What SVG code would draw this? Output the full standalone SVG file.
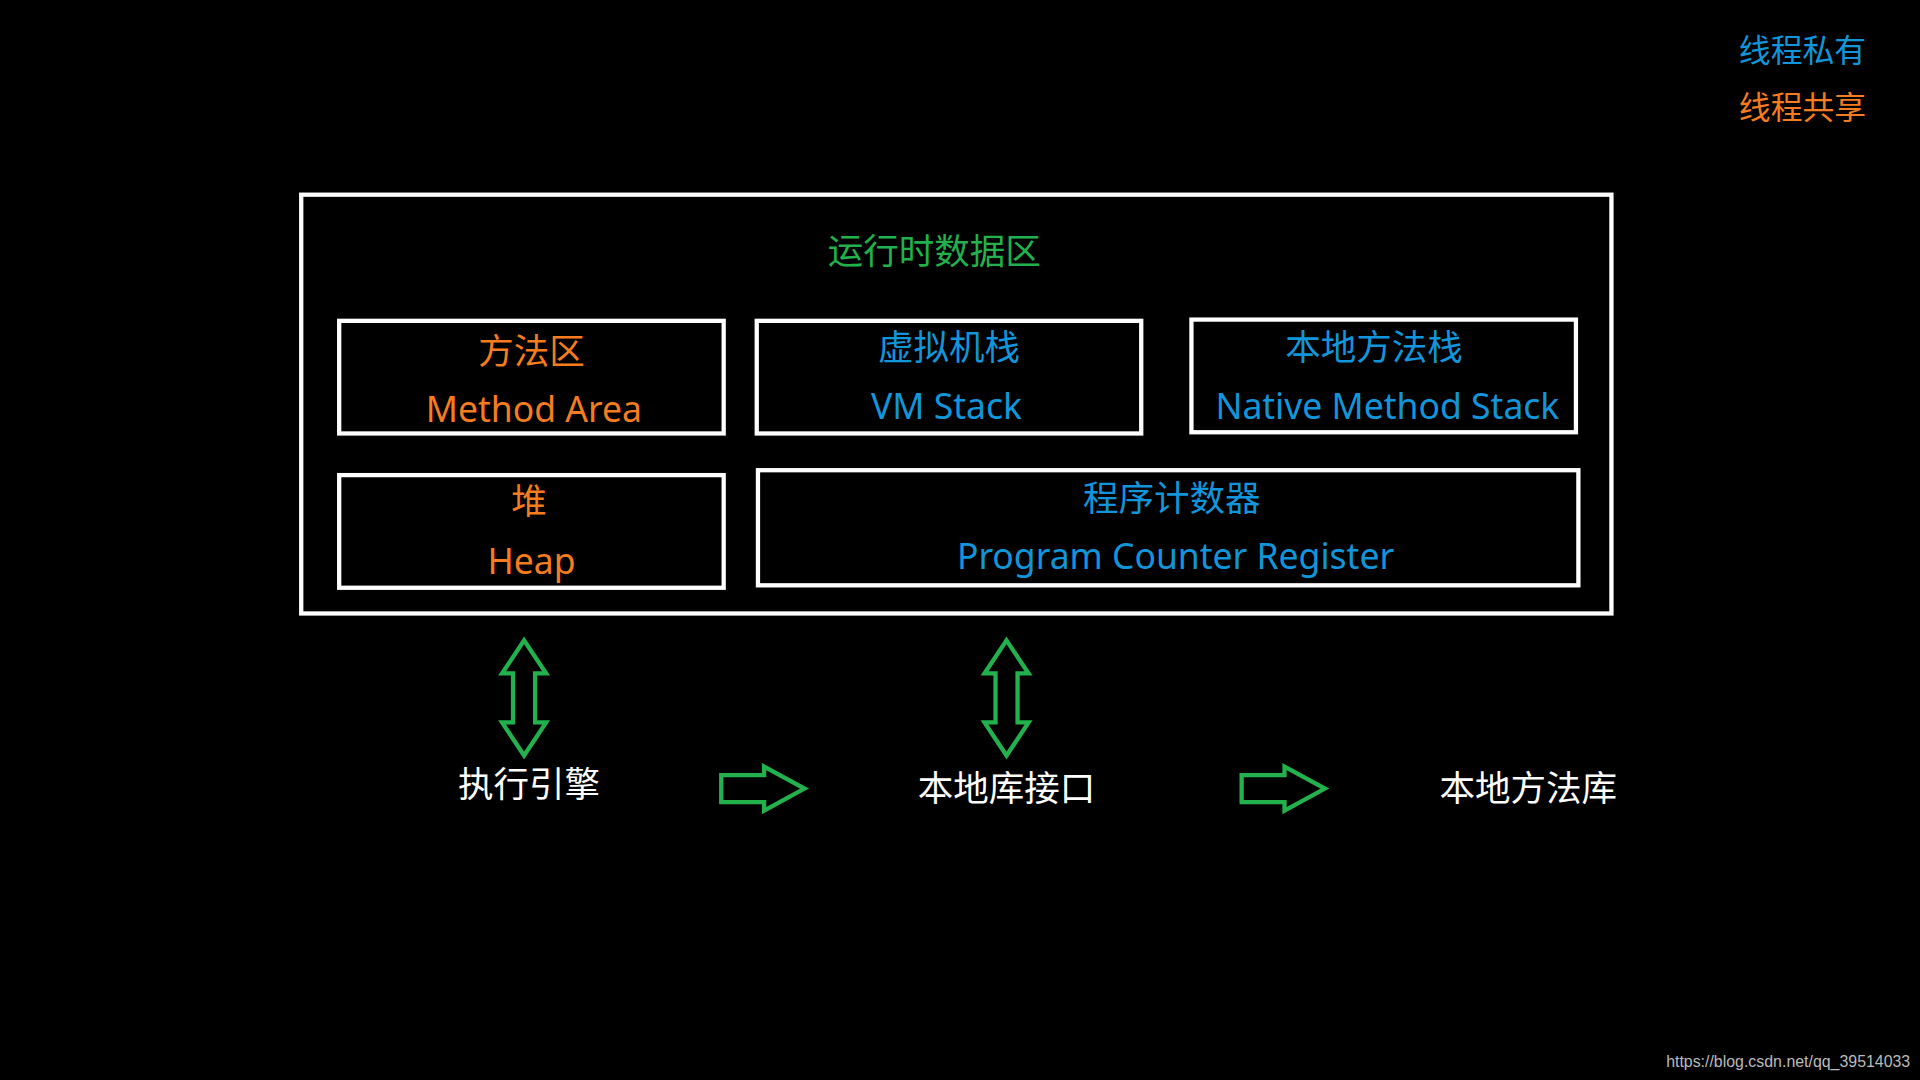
<svg xmlns="http://www.w3.org/2000/svg" width="1920" height="1080" viewBox="0 0 1920 1080">
<style>
.box{fill:none;stroke:#fff;stroke-width:3.5}
.t{font-family:"Noto Sans","Noto Sans CJK SC",sans-serif;font-size:29px;text-anchor:middle}
.o{fill:#f57c1f}.b{fill:#1296db}.g{fill:#22b14c}.w{fill:#fff}
.arr{fill:none;stroke:#22b14c;stroke-width:3.5;stroke-linejoin:miter}
</style>
<rect width="1920" height="1080" fill="#000"/>
<g transform="scale(1.2245)">
<g id="runtime"><rect class="box" x="246" y="159" width="1070" height="342"/><text class="t g" x="763" y="216">运行时数据区</text></g>
<g id="method"><rect class="box" x="277" y="262" width="314" height="92"/><text class="t o" x="434" y="297">方法区</text><text class="t o" x="436" y="345">Method Area</text></g>
<g id="vmstack"><rect class="box" x="618" y="262" width="314" height="92"/><text class="t b" x="775" y="294">虚拟机栈</text><text class="t b" x="773" y="342">VM Stack</text></g>
<g id="native"><rect class="box" x="973" y="261" width="314" height="92"/><text class="t b" x="1122" y="294">本地方法栈</text><text class="t b" x="1133" y="342">Native Method Stack</text></g>
<g id="heap"><rect class="box" x="277" y="388" width="314" height="92"/><text class="t o" x="432" y="420">堆</text><text class="t o" x="434" y="469">Heap</text></g>
<g id="pc"><rect class="box" x="619" y="384" width="670" height="94"/><text class="t b" x="957" y="417">程序计数器</text><text class="t b" x="960" y="465">Program Counter Register</text></g>
<g id="engine"><text class="t w" x="432" y="651">执行引擎</text></g>
<g id="nativeif"><text class="t w" x="822" y="654">本地库接口</text></g>
<g id="nativelib"><text class="t w" x="1248" y="654">本地方法库</text></g>
<g id="legend"><text class="t b" x="1472" y="51" style="font-size:26px">线程私有</text><text class="t o" x="1472" y="97" style="font-size:26px">线程共享</text></g>
<g id="connectors">
<path class="arr" d="M428,523 L446,550 L437,550 L437,590 L446,590 L428,617 L410,590 L419,590 L419,550 L410,550 Z"/>
<path class="arr" d="M822,523 L840,550 L831,550 L831,590 L840,590 L822,617 L804,590 L813,590 L813,550 L804,550 Z"/>
<path class="arr" d="M589,633 L624,633 L624,626 L657,644 L624,662 L624,655 L589,655 Z"/>
<path class="arr" d="M1014,633 L1049,633 L1049,626 L1082,644 L1049,662 L1049,655 L1014,655 Z"/>
</g>
<text x="1560" y="871" style="font-family:'Liberation Sans',sans-serif;font-size:13px;fill:#bbb;text-anchor:end">https://blog.csdn.net/qq_39514033</text>
</g>
</svg>
